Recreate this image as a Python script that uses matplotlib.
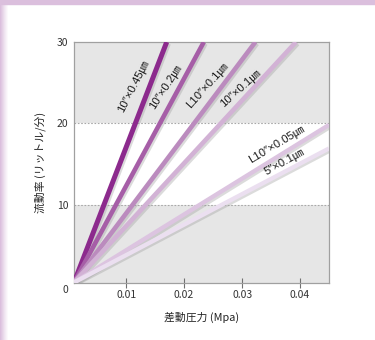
import matplotlib
matplotlib.use("Agg")
import matplotlib.pyplot as plt
import matplotlib.patheffects as pe
from matplotlib.patches import Rectangle

plt.rcParams['font.family'] = ['Noto Sans CJK JP', 'DejaVu Sans']

# Flow rate vs differential pressure for each filter cartridge
series_names = ['10″×0.45㎛', '10″×0.2㎛', 'L10″×0.1㎛', '10″×0.1㎛', 'L10″×0.05㎛', '5″×0.1㎛']
pressure_0450 = [0.001, 0.0170]
flow_0450 = [0.4, 30]
pressure_0200 = [0.001, 0.0234]
flow_0200 = [0.4, 30]
pressure_L0100 = [0.001, 0.0323]
flow_L0100 = [0.4, 30]
pressure_0100 = [0.001, 0.0393]
flow_0100 = [0.4, 30]
pressure_L0050 = [0.001, 0.045]
flow_L0050 = [0.4, 19.8]
pressure_5_0100 = [0.001, 0.045]
flow_5_0100 = [0.4, 16.9]

x_ticks = [0.01, 0.02, 0.03, 0.04]
x_tick_labels = ['0.01', '0.02', '0.03', '0.04']
y_ticks = [10, 20, 30]
y_tick_labels = ['10', '20', '30']

colors = ['#8C2A8D', '#A65EA7', '#BB8BBE', '#D2B2D5', '#DCC4E0', '#EBDFF0']
label_pos = [(0.01120, 24.5, 63), (0.01675, 24.5, 57), (0.02395, 24.7, 48),
             (0.02965, 24.35, 42), (0.03594, 17.45, 31), (0.03724, 15.3, 29)]

fig = plt.figure(figsize=(3.75, 3.4), dpi=100)

# decorative lavender frame
fig.patches.append(Rectangle((0, 1 - 4 / 340), 1, 4 / 340, transform=fig.transFigure,
                             color='#DBBFDD', zorder=0))
for i in range(8):
    fig.patches.append(Rectangle((i / 375, 0), 1 / 375, 1, transform=fig.transFigure,
                                 color='#DBBFDD', alpha=max(0.0, 1 - i / 8) ** 1.2, zorder=0,
                                 lw=0))

ax = fig.add_axes([74 / 375, 1 - 282.5 / 340, 255 / 375, 240.5 / 340])
xmin, xmax, ymin, ymax = 0.001, 0.045, 0.4, 30
ax.set_xlim(xmin, xmax)
ax.set_ylim(ymin, ymax)

# banded background
ax.set_facecolor('white')
ax.axhspan(ymin, 10, color='#E6E6E6', zorder=0, lw=0)
ax.axhspan(20, ymax, color='#E6E6E6', zorder=0, lw=0)
for yv in (10, 20):
    ax.axhline(yv, color='#A8A8A8', lw=0.8, ls=(0, (1.5, 1.5)), zorder=1)

pressures = [pressure_0450, pressure_0200, pressure_L0100, pressure_0100, pressure_L0050, pressure_5_0100]
flows = [flow_0450, flow_0200, flow_L0100, flow_0100, flow_L0050, flow_5_0100]
widths = [3.6, 3.3, 3.3, 3.3, 3.1, 3.1]
for p, f, c, w in zip(pressures, flows, colors, widths):
    ax.plot(p, f, color=c, lw=w, solid_capstyle='butt', zorder=3, clip_on=True,
            path_effects=[pe.SimpleLineShadow(offset=(1.2, -1.2), shadow_color='#9A9A9A', alpha=0.35),
                          pe.Normal()])

for name, (lx, ly, rot) in zip(series_names, label_pos):
    ax.text(lx, ly, name, rotation=rot, rotation_mode='anchor', ha='center', va='center',
            fontsize=8.2, color='#1A1A1A', zorder=4,
            family=['Liberation Sans Narrow', 'Liberation Sans', 'Noto Sans CJK JP'])

for s in ax.spines.values():
    s.set_color('#A0A0A0')
    s.set_linewidth(0.9)

ax.set_xticks(x_ticks)
ax.set_xticklabels(x_tick_labels)
ax.set_yticks(y_ticks)
ax.set_yticklabels(y_tick_labels)
ax.tick_params(axis='x', direction='inout', length=7, width=0.8, color='#707070',
               labelsize=7.5, labelcolor='#333333', pad=2)
ax.tick_params(axis='y', length=0, labelsize=7.5, labelcolor='#333333', pad=4)
ax.text(-0.035, -0.03, '0', transform=ax.transAxes, ha='center', va='center',
        fontsize=7.5, color='#333333')

ax.set_xlabel('差動圧力 (Mpa)', fontsize=7.8, color='#222222', labelpad=8)
ax.set_ylabel('流動率 (リットル/分)', fontsize=7.8, color='#222222', labelpad=8)

fig.savefig('out.png', dpi=100)
